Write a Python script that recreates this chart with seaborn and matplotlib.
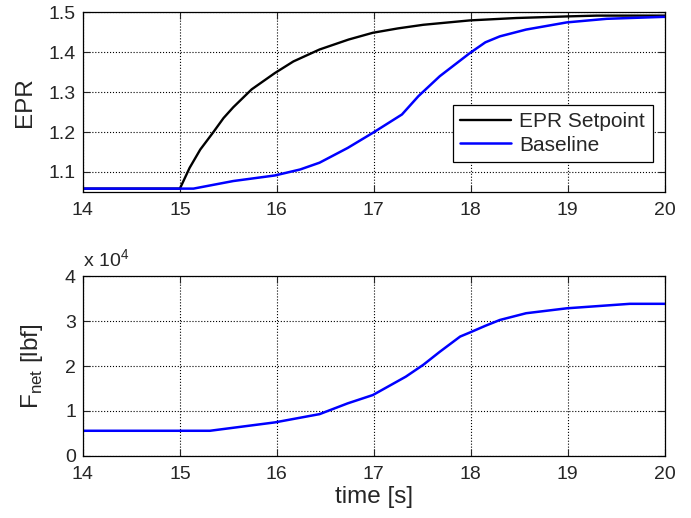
import numpy as np
import pandas as pd
import matplotlib
matplotlib.use('Agg')
import matplotlib.pyplot as plt
import seaborn as sns
from matplotlib.ticker import FuncFormatter

# EPR setpoint
t_set = [14.0, 15.0, 15.1, 15.21, 15.34, 15.45, 15.55, 15.74, 15.98, 16.17, 16.44, 16.74,
         16.99, 17.25, 17.51, 17.99, 18.47, 18.99, 19.3, 20.0]
epr_set = [1.058, 1.058, 1.11, 1.156, 1.198, 1.235, 1.262, 1.307, 1.348, 1.377, 1.407, 1.432,
           1.449, 1.460, 1.469, 1.480, 1.486, 1.490, 1.492, 1.492]

# EPR baseline
t_base = [14.0, 15.14, 15.55, 15.98, 16.24, 16.44, 16.73, 16.99, 17.29, 17.46,
          17.68, 17.99, 18.15, 18.30, 18.57, 18.99, 19.40, 20.0]
epr_base = [1.058, 1.058, 1.077, 1.091, 1.106, 1.123, 1.160, 1.198, 1.244, 1.290,
            1.340, 1.398, 1.425, 1.440, 1.457, 1.475, 1.484, 1.489]

# Net thrust baseline [lbf]
t_f = [14.0, 15.31, 15.98, 16.44, 16.73, 16.99, 17.33, 17.51, 17.68, 17.89,
       17.99, 18.15, 18.30, 18.57, 18.99, 19.64, 20.0]
f_net = [5590, 5590, 7460, 9300, 11700, 13560, 17660, 20300, 23200, 26600,
         27500, 29000, 30300, 31800, 32900, 33900, 33900]

sns.set_style('ticks')
plt.rcParams['font.family'] = ['Liberation Sans', 'DejaVu Sans']
plt.rcParams['mathtext.fontset'] = 'custom'
plt.rcParams['mathtext.rm'] = 'Liberation Sans'
plt.rcParams['xtick.direction'] = 'in'
plt.rcParams['ytick.direction'] = 'in'

fig, (ax1, ax2) = plt.subplots(2, 1, figsize=(6.91, 5.18), dpi=100)
fig.subplots_adjust(left=0.12, right=0.962, top=0.976, bottom=0.12, hspace=0.472)

df_set = pd.DataFrame({'t': t_set, 'v': epr_set})
df_base = pd.DataFrame({'t': t_base, 'v': epr_base})
df_f = pd.DataFrame({'t': t_f, 'v': f_net})

sns.lineplot(data=df_set, x='t', y='v', ax=ax1, color='black', lw=1.7, label='EPR Setpoint')
sns.lineplot(data=df_base, x='t', y='v', ax=ax1, color='#0000ff', lw=1.8, label='Baseline')
sns.lineplot(data=df_f, x='t', y='v', ax=ax2, color='#0000ff', lw=1.8)

for ax in (ax1, ax2):
    ax.set_xlim(14, 20)
    ax.set_xticks([14, 15, 16, 17, 18, 19, 20])
    ax.grid(True, color='black', linestyle=':', linewidth=0.8)
    ax.tick_params(labelsize=14, top=True, right=True, length=5, width=0.8)
    ax.tick_params(axis='x', pad=7)
    ax.tick_params(axis='y', pad=5)
    for s in ax.spines.values():
        s.set_color('black')
        s.set_linewidth(0.9)

ax1.set_ylim(1.05, 1.5)
ax1.set_yticks([1.1, 1.2, 1.3, 1.4, 1.5])
ax1.set_xlabel('')
ax1.set_ylabel('EPR', fontsize=17.5)
ax1.yaxis.set_label_coords(-0.08, 0.5)

leg = ax1.legend(loc='lower right', bbox_to_anchor=(0.979, 0.167), borderaxespad=0,
                 fontsize=15, fancybox=False, framealpha=1, edgecolor='black',
                 borderpad=0.35, handlelength=2.45, handletextpad=0.4, labelspacing=0.2)
leg.get_frame().set_linewidth(0.9)

ax2.set_ylim(0, 40000)
ax2.set_yticks([0, 10000, 20000, 30000, 40000])
ax2.yaxis.set_major_formatter(FuncFormatter(lambda v, p: '%d' % round(v / 1e4)))
ax2.text(0.0, 1.03, r'x 10$^4$', transform=ax2.transAxes, fontsize=14, va='bottom', ha='left')
ax2.set_xlabel('time [s]', fontsize=17.5)
ax2.xaxis.set_label_coords(0.5, -0.17)
ax2.set_ylabel(r'F$_{\mathrm{net}}$ [lbf]', fontsize=17.5)
ax2.yaxis.set_label_coords(-0.065, 0.5)

fig.savefig('out.png', dpi=100)
